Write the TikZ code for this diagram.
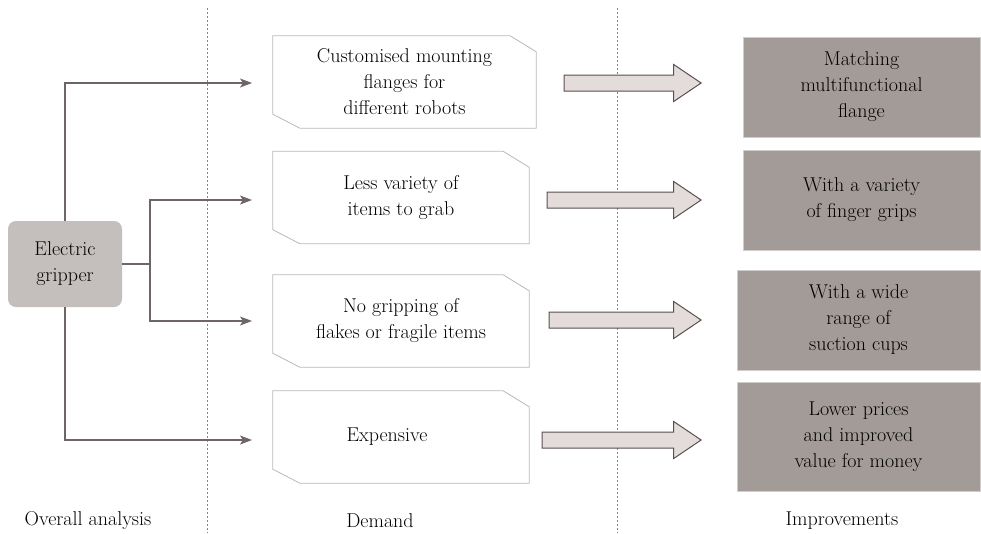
\documentclass[tikz,border=0pt]{standalone}
\usetikzlibrary{shapes.arrows,arrows.meta}
\definecolor{conn}{HTML}{6E6566}
\definecolor{grip}{HTML}{C4BFBD}
\definecolor{impfill}{HTML}{A29B98}
\definecolor{impedge}{HTML}{D2CCCB}
\definecolor{demedge}{HTML}{BDB8B8}
\definecolor{arrfill}{HTML}{E3DCDA}
\definecolor{arredge}{HTML}{5A5050}
\definecolor{sep}{HTML}{8A8282}
\begin{document}
\begin{tikzpicture}[x=1pt,y=-1pt,
  txt/.style={font=\fontsize{20}{26}\selectfont,align=center,text=black},
  gripbox/.style={txt,fill=grip,rounded corners=8pt,minimum width=114pt,minimum height=86pt,inner sep=0pt},
  dembox/.style={txt,minimum height=92pt,inner sep=0pt},
  demline/.style={draw=demedge,line width=0.8pt},
  impbox/.style={txt,fill=impfill,draw=impedge,line width=0.8pt,minimum height=100pt,inner sep=0pt},
  conline/.style={draw=conn,line width=1.1pt},
  conarrow/.style={conline,-{Stealth[length=12pt,width=9pt,inset=3pt]}},
  blockarrow/.style={single arrow,draw=arredge,fill=arrfill,line width=1pt,
     single arrow head extend=10.5pt,single arrow tip angle=68,
     inner xsep=0pt,inner ysep=7.5pt,minimum width=36pt,anchor=east},
  sepline/.style={draw=sep,line width=0.9pt,dash pattern=on 2pt off 2pt},
  caption/.style={txt}
]
\useasboundingbox (0,0) rectangle (981,533);
\fill[white] (0,0) rectangle (981,533);

% separators
\coordinate (s1t) at (207,8); \coordinate (s1b) at (207,533);
\coordinate (s2t) at (617,8); \coordinate (s2b) at (617,533);
\draw[sepline] (s1t) -- (s1b);
\draw[sepline] (s2t) -- (s2b);

% gripper
\node[gripbox] (g) at (65,264) {Electric\\gripper};

% demand boxes
\node[dembox,minimum width=263pt] (d1) at (404.5,82) {Customised mounting\\flanges for\\different robots};
\node[dembox,minimum width=256pt] (d2) at (401,197.5) {Less variety of\\items to grab};
\node[dembox,minimum width=256pt] (d3) at (401,321) {No gripping of\\flakes or fragile items};
\node[dembox,minimum width=256pt] (d4) at (401,437) {};
\node[txt] (d4t) at ([xshift=-14pt]d4.center) {Expensive};
\foreach \d in {d1,d2,d3,d4}{
  \draw[demline] (\d.north west) -- ([xshift=-26pt]\d.north east) -- ([yshift=-16pt]\d.north east)
     -- (\d.south east) -- ([xshift=27pt]\d.south west) -- ([yshift=14pt]\d.south west) -- cycle;
}

% improvement boxes
\node[impbox,minimum width=237pt] (i1) at (861.5,87) {Matching\\multifunctional\\flange};
\node[impbox,minimum width=237pt] (i2) at (861.5,200) {With a variety\\of finger grips};
\node[impbox,minimum width=243pt] (i3) at (858.5,320) {With a wide\\range of\\suction cups};
\node[impbox,minimum width=243pt,minimum height=109pt] (i4) at (858.5,436.5) {Lower prices\\and improved\\value for money};

% connectors
\coordinate (e1) at (252,83);
\coordinate (e2) at (252,200);
\coordinate (e3) at (252,321);
\coordinate (e4) at (252,440);
\coordinate (j) at (150,264);
\draw[conarrow] (g.north) |- (e1);
\draw[conarrow] (g.south) |- (e4);
\draw[conline] (g.east) -- (j);
\draw[conarrow] (j) |- (e2);
\draw[conarrow] (j) |- (e3);

% block arrows
\node[blockarrow,minimum height=137pt] (a1) at (702,83) {};
\node[blockarrow,minimum height=154pt] (a2) at (702,200) {};
\node[blockarrow,minimum height=152pt] (a3) at (702,320) {};
\node[blockarrow,minimum height=159pt] (a4) at (702,440) {};

% captions
\node[caption] (c1) at (88,521) {Overall analysis};
\node[caption] (c2) at (380,521) {Demand};
\node[caption] (c3) at (842,521) {Improvements};
\end{tikzpicture}
\end{document}
